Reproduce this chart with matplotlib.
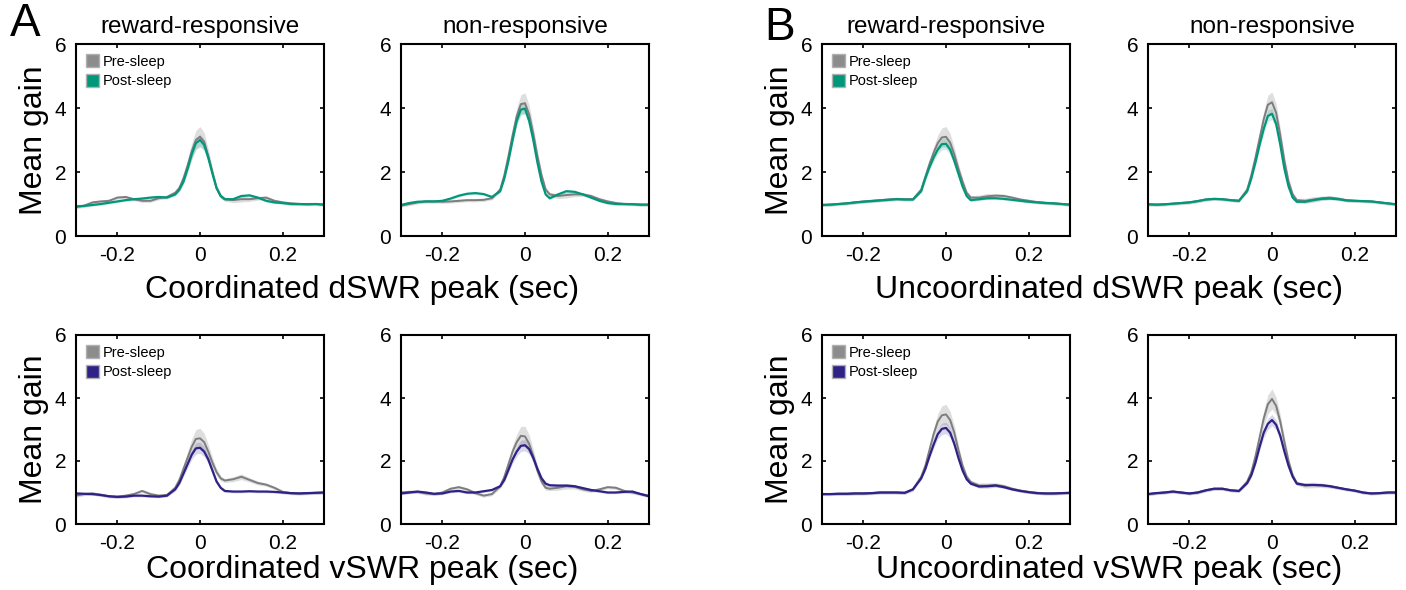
import numpy as np
import matplotlib
matplotlib.use('Agg')
import matplotlib.pyplot as plt
from matplotlib.patches import Patch

plt.rcParams['font.family'] = ['Liberation Sans', 'DejaVu Sans']

# time relative to SWR peak (sec)
t = [-0.30, -0.28, -0.26, -0.24, -0.22, -0.20, -0.18, -0.16, -0.14, -0.12, -0.10, -0.08,
     -0.06, -0.05, -0.04, -0.03, -0.02, -0.01, 0.00, 0.01, 0.02, 0.03, 0.04, 0.05, 0.06,
     0.08, 0.10, 0.12, 0.14, 0.16, 0.18, 0.20, 0.22, 0.24, 0.26, 0.28, 0.30]

# A, coordinated dSWR
coord_d_rew_pre = [0.90, 0.95, 1.05, 1.08, 1.10, 1.20, 1.22, 1.15, 1.10, 1.10, 1.18, 1.22,
                   1.35, 1.50, 1.80, 2.20, 2.65, 3.00, 3.10, 2.95, 2.50, 2.00, 1.50, 1.25, 1.15,
                   1.12, 1.15, 1.15, 1.18, 1.20, 1.10, 1.05, 1.02, 1.00, 1.00, 1.00, 0.98]
coord_d_rew_post = [0.93, 0.94, 0.97, 1.00, 1.04, 1.08, 1.12, 1.15, 1.17, 1.20, 1.22, 1.20,
                    1.30, 1.45, 1.70, 2.10, 2.55, 2.90, 3.00, 2.85, 2.45, 1.95, 1.50, 1.25, 1.15,
                    1.15, 1.25, 1.27, 1.20, 1.10, 1.05, 1.03, 1.00, 1.00, 0.99, 1.00, 0.98]
coord_d_non_pre = [0.95, 1.00, 1.05, 1.08, 1.08, 1.07, 1.08, 1.10, 1.12, 1.12, 1.13, 1.18,
                   1.45, 1.90, 2.50, 3.15, 3.75, 4.12, 4.15, 3.80, 3.20, 2.50, 1.90, 1.45, 1.30,
                   1.25, 1.28, 1.30, 1.30, 1.25, 1.15, 1.08, 1.03, 1.00, 1.00, 0.98, 0.98]
coord_d_non_post = [0.97, 1.03, 1.07, 1.08, 1.08, 1.10, 1.17, 1.26, 1.32, 1.34, 1.31, 1.22,
                    1.40, 1.80, 2.35, 3.00, 3.60, 3.95, 3.98, 3.60, 3.00, 2.30, 1.70, 1.30, 1.18,
                    1.30, 1.40, 1.38, 1.30, 1.20, 1.10, 1.03, 1.00, 1.00, 0.99, 0.98, 0.98]

# A, coordinated vSWR
coord_v_rew_pre = [0.90, 0.95, 0.97, 0.93, 0.88, 0.87, 0.90, 0.95, 1.05, 0.95, 0.90, 0.92,
                   1.15, 1.40, 1.75, 2.10, 2.45, 2.70, 2.72, 2.60, 2.30, 1.95, 1.65, 1.45, 1.38,
                   1.42, 1.50, 1.40, 1.30, 1.25, 1.15, 1.02, 0.98, 0.97, 0.98, 0.99, 1.00]
coord_v_rew_post = [0.97, 0.96, 0.95, 0.92, 0.88, 0.86, 0.87, 0.90, 0.90, 0.88, 0.87, 0.90,
                    1.10, 1.30, 1.60, 1.90, 2.20, 2.40, 2.42, 2.30, 2.05, 1.70, 1.35, 1.15, 1.05,
                    1.03, 1.03, 1.04, 1.03, 1.03, 1.02, 1.00, 0.98, 0.97, 0.98, 0.99, 1.00]
coord_v_non_pre = [1.00, 1.02, 1.02, 0.97, 0.95, 1.00, 1.12, 1.17, 1.10, 0.98, 0.90, 0.95,
                   1.20, 1.50, 1.90, 2.30, 2.60, 2.80, 2.78, 2.55, 2.15, 1.70, 1.35, 1.15, 1.12,
                   1.15, 1.20, 1.18, 1.10, 1.05, 1.10, 1.17, 1.15, 1.05, 1.00, 0.95, 0.90]
coord_v_non_post = [0.97, 1.00, 1.03, 1.00, 0.96, 0.97, 1.03, 1.05, 1.00, 1.00, 1.04, 1.08,
                    1.20, 1.40, 1.72, 2.05, 2.30, 2.48, 2.50, 2.38, 2.10, 1.75, 1.45, 1.28, 1.23,
                    1.22, 1.22, 1.20, 1.14, 1.08, 1.04, 1.00, 1.00, 1.02, 1.03, 0.95, 0.88]

# B, uncoordinated dSWR
unc_d_rew_pre = [0.97, 0.98, 1.00, 1.02, 1.05, 1.08, 1.10, 1.12, 1.14, 1.16, 1.15, 1.15,
                 1.45, 1.85, 2.25, 2.60, 2.90, 3.08, 3.10, 2.92, 2.55, 2.10, 1.70, 1.35, 1.20,
                 1.20, 1.24, 1.26, 1.25, 1.20, 1.14, 1.10, 1.06, 1.04, 1.02, 1.00, 0.98]
unc_d_rew_post = [0.97, 0.98, 1.00, 1.02, 1.05, 1.07, 1.09, 1.11, 1.13, 1.15, 1.14, 1.14,
                  1.40, 1.80, 2.15, 2.45, 2.70, 2.87, 2.88, 2.70, 2.35, 1.95, 1.55, 1.25, 1.12,
                  1.15, 1.18, 1.18, 1.16, 1.13, 1.10, 1.07, 1.05, 1.03, 1.02, 1.00, 0.98]
unc_d_non_pre = [0.99, 0.98, 0.99, 1.01, 1.03, 1.05, 1.09, 1.14, 1.16, 1.15, 1.12, 1.10,
                 1.45, 1.90, 2.45, 3.05, 3.65, 4.10, 4.18, 3.85, 3.15, 2.35, 1.70, 1.30, 1.12,
                 1.10, 1.14, 1.18, 1.20, 1.17, 1.12, 1.10, 1.09, 1.08, 1.05, 1.02, 0.99]
unc_d_non_post = [0.99, 0.98, 0.99, 1.01, 1.03, 1.05, 1.09, 1.14, 1.16, 1.15, 1.12, 1.10,
                  1.40, 1.80, 2.30, 2.85, 3.35, 3.75, 3.82, 3.50, 2.85, 2.10, 1.55, 1.20, 1.07,
                  1.07, 1.12, 1.16, 1.17, 1.15, 1.11, 1.10, 1.09, 1.08, 1.05, 1.02, 0.99]

# B, uncoordinated vSWR
unc_v_rew_pre = [0.95, 0.95, 0.96, 0.96, 0.97, 0.97, 0.98, 1.00, 1.00, 1.00, 0.99, 1.10,
                 1.50, 1.85, 2.35, 2.85, 3.25, 3.45, 3.48, 3.30, 2.90, 2.35, 1.85, 1.50, 1.33,
                 1.22, 1.22, 1.24, 1.20, 1.12, 1.06, 1.02, 0.99, 0.97, 0.97, 0.98, 0.99]
unc_v_rew_post = [0.95, 0.95, 0.96, 0.96, 0.97, 0.97, 0.98, 1.00, 1.00, 1.00, 0.99, 1.10,
                  1.45, 1.75, 2.15, 2.52, 2.85, 3.02, 3.05, 2.90, 2.55, 2.10, 1.70, 1.42, 1.28,
                  1.19, 1.20, 1.22, 1.17, 1.10, 1.05, 1.01, 0.98, 0.97, 0.97, 0.98, 0.99]
unc_v_non_pre = [0.95, 0.98, 1.00, 1.03, 1.00, 0.97, 1.00, 1.07, 1.12, 1.12, 1.07, 1.05,
                 1.35, 1.65, 2.15, 2.75, 3.35, 3.80, 3.97, 3.75, 3.25, 2.60, 2.00, 1.55, 1.30,
                 1.22, 1.24, 1.23, 1.20, 1.15, 1.10, 1.06, 1.00, 0.97, 0.98, 1.00, 1.00]
unc_v_non_post = [0.95, 0.98, 1.00, 1.03, 1.00, 0.97, 1.00, 1.07, 1.12, 1.12, 1.07, 1.05,
                  1.30, 1.55, 1.95, 2.45, 2.90, 3.18, 3.30, 3.15, 2.80, 2.30, 1.85, 1.50, 1.28,
                  1.24, 1.24, 1.23, 1.20, 1.15, 1.10, 1.06, 1.00, 0.97, 0.98, 1.00, 1.00]

# s.e.m. (only really visible near the peak)
sem_small = [0.04, 0.04, 0.04, 0.04, 0.04, 0.04, 0.04, 0.04, 0.04, 0.04, 0.04, 0.04,
             0.05, 0.07, 0.09, 0.12, 0.15, 0.18, 0.18, 0.16, 0.13, 0.10, 0.08, 0.06, 0.05,
             0.04, 0.04, 0.04, 0.04, 0.04, 0.04, 0.04, 0.04, 0.04, 0.04, 0.04, 0.04]
sem_large = [0.05, 0.05, 0.05, 0.05, 0.05, 0.05, 0.05, 0.05, 0.05, 0.05, 0.05, 0.05,
             0.07, 0.10, 0.14, 0.19, 0.25, 0.30, 0.32, 0.28, 0.22, 0.16, 0.11, 0.08, 0.06,
             0.08, 0.09, 0.07, 0.06, 0.05, 0.05, 0.05, 0.05, 0.05, 0.05, 0.05, 0.05]

titles = ['reward-responsive', 'non-responsive']
xlabels = ['Coordinated dSWR peak (sec)', 'Coordinated vSWR peak (sec)',
           'Uncoordinated dSWR peak (sec)', 'Uncoordinated vSWR peak (sec)']

GRAY = '#7d7d7d'
TEAL = '#00977b'
INDIGO = '#2e2287'

W, H = 1406, 590
fig = plt.figure(figsize=(W / 100, H / 100), dpi=100)


def px_axes(left, top, width, height):
    return fig.add_axes([left / W, 1 - (top + height) / H, width / W, height / H])


def panel(ax, pre, post, color, sem_pre, sem_post, legend=False, ylabel=False):
    x = np.array(t)
    pre = np.array(pre)
    post = np.array(post)
    ax.fill_between(x, pre - np.array(sem_pre), pre + np.array(sem_pre),
                    color='#c8c8c8', alpha=0.6, lw=0)
    ax.fill_between(x, post - np.array(sem_post), post + np.array(sem_post),
                    color=color, alpha=0.18, lw=0)
    ax.plot(x, pre, color=GRAY, lw=1.4)
    ax.plot(x, post, color=color, lw=1.6)
    ax.set_xlim(-0.3, 0.3)
    ax.set_ylim(0, 6)
    ax.set_xticks([-0.2, 0, 0.2])
    ax.set_xticklabels(['-0.2', '0', '0.2'])
    ax.set_yticks([0, 2, 4, 6])
    ax.tick_params(direction='in', length=3, width=1.2, labelsize=15,
                   top=True, right=True, pad=7)
    for s in ax.spines.values():
        s.set_linewidth(1.5)
    if legend:
        handles = [Patch(facecolor='#8c8c8c', edgecolor='#b0b0b0', label='Pre-sleep'),
                   Patch(facecolor=color, edgecolor='#b0b0b0', label='Post-sleep')]
        ax.legend(handles=handles, loc='upper left', frameon=False, fontsize=10.5,
                  handlelength=0.9, handleheight=1.0, handletextpad=0.2,
                  borderaxespad=0.3, labelspacing=0.35)
    if ylabel:
        ax.set_ylabel('Mean gain', fontsize=23, labelpad=4)


lefts = [76, 401, 822, 1148]
tops = [44, 335]
w = 248
hs = [192, 189]

rows = [
    [(coord_d_rew_pre, coord_d_rew_post, TEAL), (coord_d_non_pre, coord_d_non_post, TEAL),
     (unc_d_rew_pre, unc_d_rew_post, TEAL), (unc_d_non_pre, unc_d_non_post, TEAL)],
    [(coord_v_rew_pre, coord_v_rew_post, INDIGO), (coord_v_non_pre, coord_v_non_post, INDIGO),
     (unc_v_rew_pre, unc_v_rew_post, INDIGO), (unc_v_non_pre, unc_v_non_post, INDIGO)],
]

for r, row in enumerate(rows):
    for c, (pre, post, col) in enumerate(row):
        ax = px_axes(lefts[c], tops[r], w, hs[r])
        panel(ax, pre, post, col, sem_large, sem_small,
              legend=(c % 2 == 0), ylabel=(c % 2 == 0))
        if r == 0:
            ax.set_title(titles[c % 2], fontsize=17.5, pad=8)

# shared x labels
fig.text((76 + 401 + w) / 2 / W, 1 - 290 / H, xlabels[0], ha='center', va='center', fontsize=23)
fig.text((76 + 401 + w) / 2 / W, 1 - 570 / H, xlabels[1], ha='center', va='center', fontsize=23)
fig.text((822 + 1148 + w) / 2 / W, 1 - 290 / H, xlabels[2], ha='center', va='center', fontsize=23)
fig.text((822 + 1148 + w) / 2 / W, 1 - 570 / H, xlabels[3], ha='center', va='center', fontsize=23)

fig.text(10 / W, 1 - 24 / H, 'A', fontsize=33, va='center', ha='left')
fig.text(764 / W, 1 - 28 / H, 'B', fontsize=33, va='center', ha='left')

fig.savefig('out.png', dpi=100)
